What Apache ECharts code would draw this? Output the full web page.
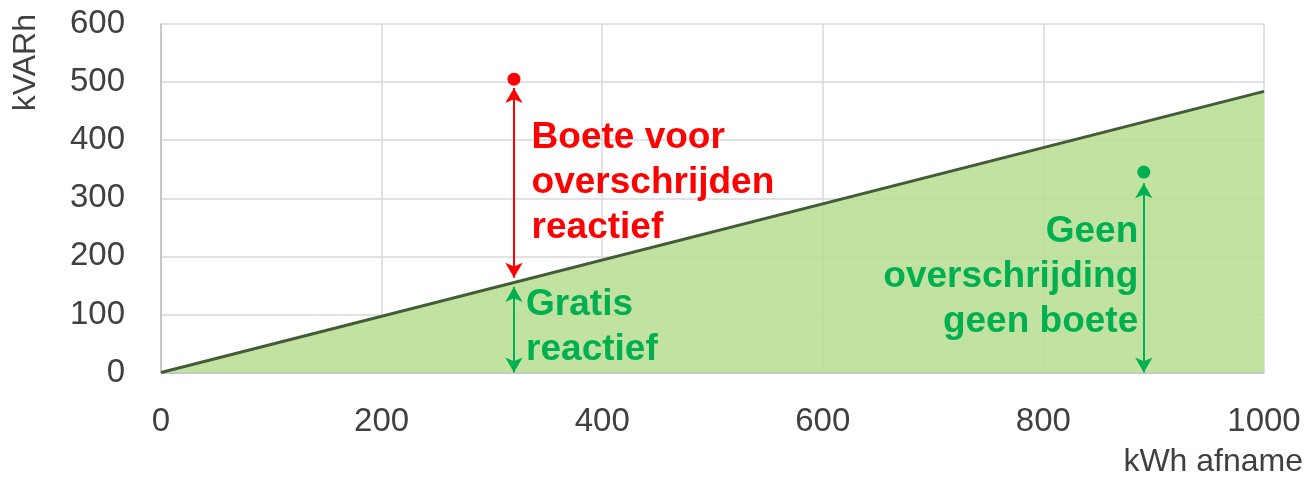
<!DOCTYPE html>
<html>
<head>
<meta charset="utf-8">
<script src="https://cdn.jsdelivr.net/npm/echarts@6/dist/echarts.min.js"></script>
<style>
  html, body { margin: 0; padding: 0; background: #fff; }
  #chart { width: 1312px; height: 480px; }
</style>
</head>
<body>
<div id="chart"></div>
<script>
// Axis ranges and ticks
const xTicks = [0, 200, 400, 600, 800, 1000];
const yTicks = [0, 100, 200, 300, 400, 500, 600];

// Free reactive energy limit (kVARh allowed per kWh taken)
const limitLine = [[0, 0], [1000, 484]];

// Example measurements
const overPoint = [320, 505];   // above the limit
const underPoint = [891, 345];  // below the limit

// Arrow spans (value coordinates)
const penaltyArrow = [[320, 490], [320, 163]];
const freeArrow = [[320, 147], [320, 0]];
const okArrow = [[891, 326], [891, 0]];

// Annotation texts and their anchors
const penaltyText = 'Boete voor\noverschrijden\nreactief';
const penaltyAnchor = [336, 326];
const freeText = 'Gratis\nreactief';
const freeAnchor = [331, 77];
const okText = 'Geen\noverschrijding\ngeen boete';
const okAnchor = [886, 164];

const RED = '#ff0000';
const GREEN = '#00b050';
const TXT = '#404040';
const FONT = 'Liberation Sans, Arial, sans-serif';

const chart = echarts.init(document.getElementById('chart'), null, { renderer: 'canvas' });

function arrowSeries(span, color) {
  return {
    type: 'line',
    data: [],
    silent: true,
    markLine: {
      silent: true,
      symbol: ['arrow', 'arrow'],
      symbolSize: [13, 15],
      label: { show: false },
      lineStyle: { color: color, width: 2, type: 'solid', opacity: 1 },
      data: [[{ coord: span[0] }, { coord: span[1] }]],
      animation: false
    }
  };
}

function textSeries(anchor, text, color, align) {
  return {
    type: 'scatter',
    silent: true,
    symbolSize: 0,
    itemStyle: { opacity: 1 },
    data: [anchor],
    label: {
      show: true,
      position: [0, 0],
      formatter: text,
      align: align,
      verticalAlign: 'middle',
      color: color,
      opacity: 1,
      fontFamily: FONT,
      fontWeight: 'bold',
      fontSize: 37,
      lineHeight: 45
    },
    z: 6
  };
}

chart.setOption({
  animation: false,
  grid: { left: 161, right: 48, top: 24, bottom: 107.5, containLabel: false },
  xAxis: {
    type: 'value',
    min: xTicks[0],
    max: xTicks[xTicks.length - 1],
    interval: xTicks[1] - xTicks[0],
    axisLine: { show: true, onZero: false, lineStyle: { color: '#bfbfbf', width: 1.5 } },
    axisTick: { show: false },
    axisLabel: { color: TXT, fontFamily: FONT, fontSize: 33, margin: 33, formatter: v => String(v) },
    splitLine: { show: true, lineStyle: { color: '#d9d9d9', width: 1.5 } }
  },
  yAxis: {
    type: 'value',
    min: yTicks[0],
    max: yTicks[yTicks.length - 1],
    interval: yTicks[1] - yTicks[0],
    axisLine: { show: true, lineStyle: { color: '#bfbfbf', width: 1.5 } },
    axisTick: { show: false },
    axisLabel: { color: TXT, fontFamily: FONT, fontSize: 33, margin: 36, formatter: v => String(v) },
    splitLine: { show: true, lineStyle: { color: '#d9d9d9', width: 1.5 } }
  },
  graphic: [
    {
      type: 'text',
      x: 26, y: 14,
      rotation: Math.PI / 2,
      style: { text: 'kVARh', fill: TXT, font: '32px ' + FONT, align: 'right', verticalAlign: 'middle' }
    },
    {
      type: 'text',
      x: 1303, y: 462,
      style: { text: 'kWh afname', fill: TXT, font: '32px ' + FONT, align: 'right', verticalAlign: 'middle' }
    }
  ],
  series: [
    {
      type: 'line',
      data: limitLine,
      symbol: 'none',
      silent: true,
      lineStyle: { color: '#435c38', width: 3 },
      areaStyle: { color: '#b8de93', opacity: 0.88 },
      z: 1
    },
    arrowSeries(penaltyArrow, RED),
    arrowSeries(freeArrow, GREEN),
    arrowSeries(okArrow, GREEN),
    {
      type: 'scatter',
      silent: true,
      symbolSize: 13,
      data: [
        { value: overPoint, itemStyle: { color: RED, opacity: 1 } },
        { value: underPoint, itemStyle: { color: GREEN, opacity: 1 } }
      ],
      z: 5
    },
    textSeries(penaltyAnchor, penaltyText, RED, 'left'),
    textSeries(freeAnchor, freeText, GREEN, 'left'),
    textSeries(okAnchor, okText, GREEN, 'right')
  ]
});
</script>
</body>
</html>
